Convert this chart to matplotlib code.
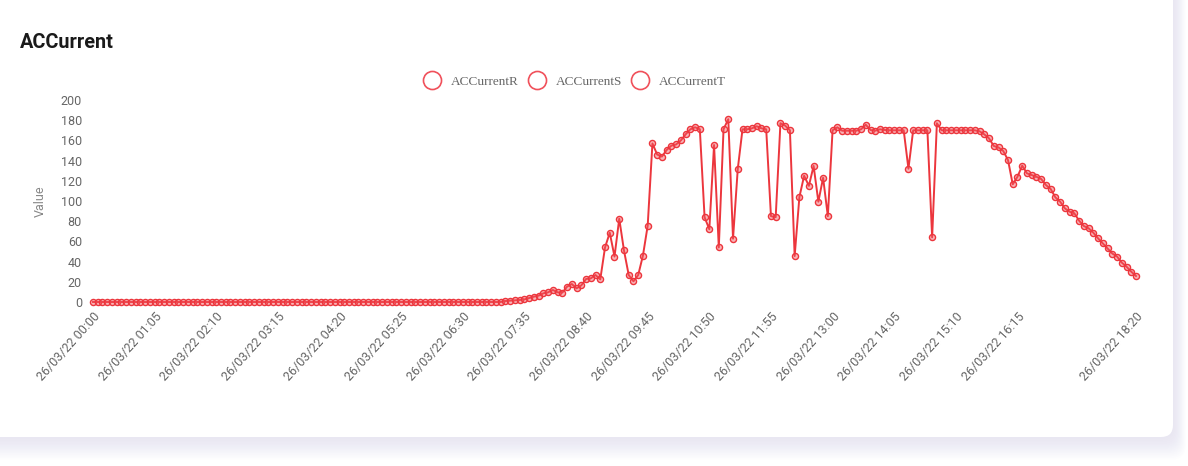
import numpy as np
import pandas as pd
import matplotlib
matplotlib.use("Agg")
import matplotlib.pyplot as plt
from matplotlib.patches import FancyBboxPatch
from matplotlib.lines import Line2D

# 5 minute samples, 26/03/22 00:00 -> 18:20
times = pd.date_range("2022-03-26 00:00", "2022-03-26 18:20", freq="5min")
labels = [t.strftime("%d/%m/%y %H:%M") for t in times]

# ACCurrentR values
zeros = [0] * 87
ramp = [1, 1.3, 1.6, 2, 2.6, 4, 5.3, 6.3, 8.6, 9.6, 11.9, 9.6, 9.3, 15.2, 17.8,
        13.5, 16.5, 22.8, 23.4, 26.7, 22.4, 54, 68.6, 45, 82.5, 51, 26.7, 20.5,
        26.7, 46, 75.5]
day = [157, 146, 144, 150.5, 154.8, 156, 160, 166, 171, 173, 171, 84, 72, 155.4,
       54, 171, 181, 62.7, 131.7, 171, 171, 172, 174, 172, 171, 85, 84, 177,
       174.6, 170, 45.5, 104, 125, 115, 134.7, 99.3, 123, 85, 170, 173, 169.6,
       169.6, 169.6, 169.6, 171, 175.5, 170.3, 169.6, 171, 170.3, 170, 170, 170,
       170, 132, 170, 170, 170, 170, 64, 177, 170, 170, 170, 170, 170, 170, 170,
       170, 169, 166, 162, 154.5, 153, 149.5, 140.6, 116.5, 124, 135,
       127.4, 125.7, 124, 121.8, 115.8, 111.9, 103.6, 99.3, 92.7, 89.4, 87.8,
       80.5, 75.2, 73, 68.6, 63, 58, 53, 48, 45, 39, 35, 30, 25.7]
ac_r = zeros + ramp + day
series_names = ["ACCurrentR", "ACCurrentS", "ACCurrentT"]
tick_idx = list(range(0, 196, 13)) + [220]
y_ticks = list(range(0, 201, 20))

red = "#ec363d"
W, H = 1188, 466
fig = plt.figure(figsize=(W / 100, H / 100), dpi=100)
fig.patch.set_facecolor("white")

# card with soft lavender shadow
bg = fig.add_axes([0, 0, 1, 1])
bg.set_xlim(0, W)
bg.set_ylim(H, 0)
bg.axis("off")
for k in range(14, 0, -1):
    bg.add_patch(FancyBboxPatch((-40 - k * 0.3, -40), 1213 + k * 1.2, 477 + k * 1.6,
                                boxstyle="round,pad=0,rounding_size=14",
                                fc="#dcd8f2", ec="none", alpha=0.05))
bg.add_patch(FancyBboxPatch((-40, -40), 1213, 477,
                            boxstyle="round,pad=0,rounding_size=12",
                            fc="white", ec="none"))
bg.text(20, 42, "ACCurrent", fontsize=14.3, fontweight="bold", color="#1a1a1a",
        va="center", ha="left", family="Roboto")

ax = fig.add_axes([93 / W, 1 - 302 / H, (1136 - 93) / W, (302 - 100) / H])
ax.patch.set_alpha(0)
x = np.arange(len(ac_r))
ax.plot(x, ac_r, color=red, lw=1.4, marker="o", ms=4.4, mew=1,
        mfc=(0.95, 0.35, 0.38, 0.45), mec=red, clip_on=False)
ax.set_xlim(0, len(ac_r) - 1)
ax.set_ylim(0, 200)
ax.set_yticks(y_ticks)
ax.set_xticks(tick_idx)
ax.set_xticklabels([labels[i] for i in tick_idx], rotation=48, ha="right",
                   va="top", rotation_mode="anchor")
ax.tick_params(length=0, labelsize=9, labelcolor="#666666")
ax.tick_params(axis="y", pad=8)
ax.tick_params(axis="x", pad=6)
for lab in ax.get_xticklabels() + ax.get_yticklabels():
    lab.set_family("Roboto")
for s in ax.spines.values():
    s.set_visible(False)
ax.set_ylabel("Value", fontsize=9, color="#888888", family="Roboto", labelpad=10)

handles = [Line2D([], [], ls="none", marker="o", ms=13, mfc="white", mec="#f0505a",
                  mew=1.2) for _ in series_names]
fig.legend(handles, series_names, loc="center", bbox_to_anchor=(575 / W, 1 - 82 / H),
           ncol=3, frameon=False, handletextpad=0.8, columnspacing=0.8,
           prop={"family": "Liberation Serif", "size": 9.5}, labelcolor="#666666",
           handlelength=1.2)

fig.savefig("out.png", dpi=100)
